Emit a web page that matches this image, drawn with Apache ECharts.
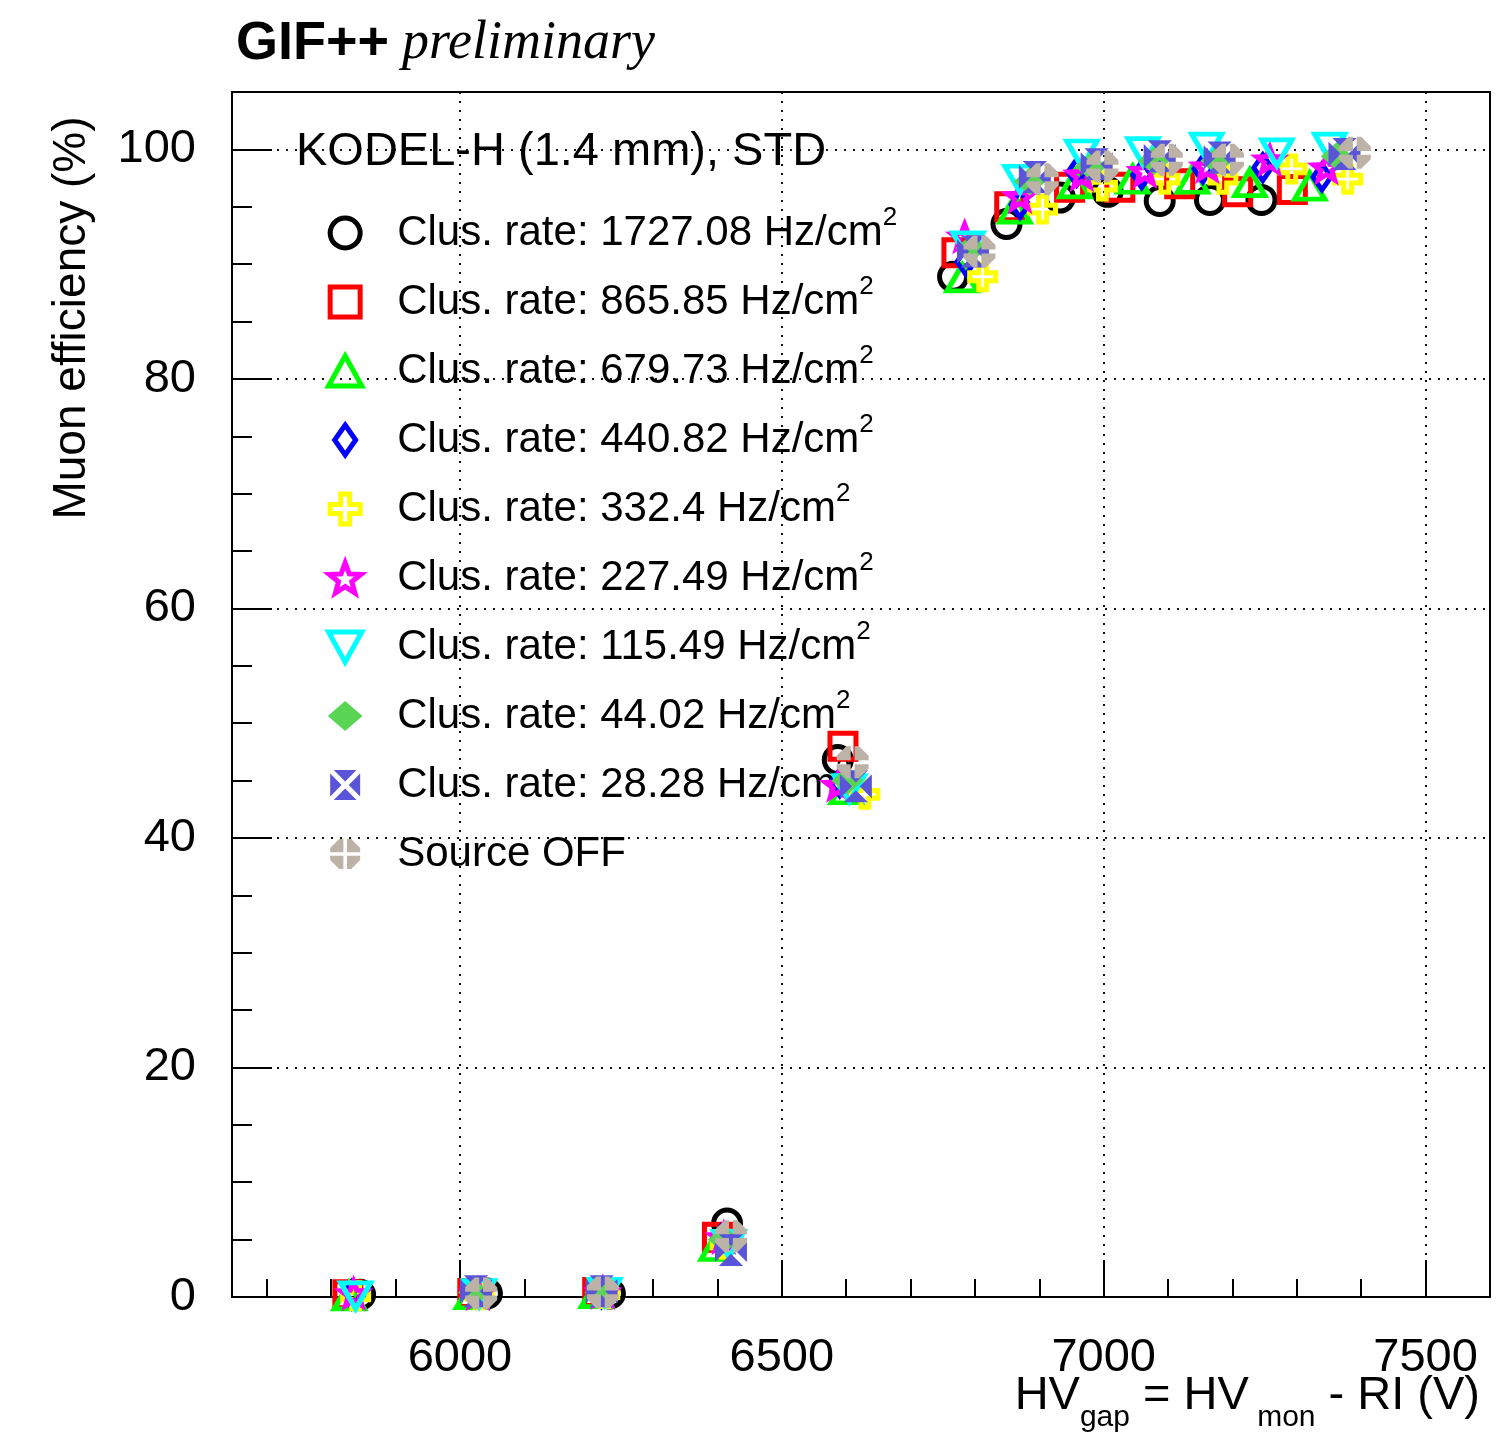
<!DOCTYPE html>
<html><head><meta charset="utf-8">
<script src="https://cdn.jsdelivr.net/npm/echarts@6/dist/echarts.min.js"></script>
<style>html,body{margin:0;padding:0;background:#fff}#c{width:1496px;height:1434px}</style>
</head><body><div id="c"></div>
<script>
// ---- tick values ----
const xMajorTicks = [6000, 6500, 7000, 7500];
const xMinorTicks = [5700, 5800, 5900, 6000, 6100, 6200, 6300, 6400, 6500, 6600, 6700, 6800, 6900, 7000, 7100, 7200, 7300, 7400, 7500, 7600];
const yMajorTicks = [0, 20, 40, 60, 80, 100];
const yMinorTicks = [0, 5, 10, 15, 20, 25, 30, 35, 40, 45, 50, 55, 60, 65, 70, 75, 80, 85, 90, 95, 100, 105];

// ---- legend labels ----
const legendLabels = [
  'Clus. rate: 1727.08 Hz/cm^2',
  'Clus. rate: 865.85 Hz/cm^2',
  'Clus. rate: 679.73 Hz/cm^2',
  'Clus. rate: 440.82 Hz/cm^2',
  'Clus. rate: 332.4 Hz/cm^2',
  'Clus. rate: 227.49 Hz/cm^2',
  'Clus. rate: 115.49 Hz/cm^2',
  'Clus. rate: 44.02 Hz/cm^2',
  'Clus. rate: 28.28 Hz/cm^2',
  'Source OFF'
];

// ---- data: HV_gap (V) and muon efficiency (%) ----
const hv_1727  = [5845, 6042, 6233, 6415, 6587, 6766, 6849, 6932, 7006, 7087, 7165, 7245];
const eff_1727 = [0.2, 0.3, 0.3, 6.4, 46.8, 88.9, 93.5, 95.8, 96.3, 95.5, 95.6, 95.6];
const hv_865   = [5826, 6020, 6214, 6400, 6595, 6772, 6854, 6947, 7025, 7118, 7208, 7293];
const eff_865  = [0.2, 0.3, 0.4, 5.2, 48.0, 91.0, 95.0, 96.7, 96.7, 97.0, 96.3, 96.5];
const hv_679   = [5828, 6018, 6212, 6398, 6600, 6780, 6862, 6955, 7045, 7138, 7227, 7320];
const eff_679  = [0.1, 0.2, 0.3, 4.4, 44.2, 88.8, 94.8, 97.0, 97.4, 97.4, 97.1, 96.8];
const hv_440   = [5832, 6025, 6220, 6405, 6590, 6786, 6870, 6958, 7059, 7154, 7247, 7339];
const eff_440  = [0.2, 0.3, 0.3, 5.0, 44.8, 90.2, 95.2, 98.0, 97.8, 98.3, 98.4, 97.6];
const hv_332   = [5838, 6030, 6225, 6412, 6629, 6812, 6905, 6998, 7095, 7185, 7292, 7379];
const eff_332  = [0.1, 0.2, 0.3, 4.6, 43.8, 88.9, 94.8, 96.8, 97.4, 97.4, 98.3, 97.4];
const hv_227   = [5835, 6028, 6222, 6410, 6588, 6784, 6870, 6966, 7064, 7161, 7258, 7346];
const eff_227  = [0.3, 0.3, 0.4, 5.2, 44.6, 92.4, 95.9, 97.8, 98.1, 98.5, 99.1, 98.4];
const hv_115   = [5838, 6030, 6225, 6418, 6605, 6789, 6870, 6966, 7061, 7160, 7269, 7351];
const eff_115  = [0.1, 0.3, 0.4, 4.6, 44.3, 91.6, 97.4, 99.6, 99.8, 100.2, 99.7, 100.2];
const hv_44    = [6022, 6218, 6410, 6602, 6795, 6885, 6980, 7078, 7175, 7362];
const eff_44   = [0.4, 0.4, 5.0, 45.0, 91.4, 97.2, 98.5, 99.0, 99.0, 99.4];
const hv_28    = [6025, 6220, 6421, 6615, 6797, 6893, 6989, 7087, 7180, 7374];
const eff_28   = [0.5, 0.5, 4.1, 44.5, 91.1, 97.6, 98.7, 99.4, 99.3, 99.6];
const hv_off   = [6033, 6222, 6421, 6610, 6807, 6905, 6998, 7098, 7193, 7390];
const eff_off  = [0.3, 0.4, 5.3, 46.6, 91.1, 97.4, 98.5, 99.1, 99.1, 99.7];

// ---- marker shapes ----
const P_SQ = 'path://M0,0 L10,0 L10,10 L0,10 Z';
const P_TRI_UP = 'path://M5,0 L10,9 L0,9 Z';
const P_TRI_DN = 'path://M0,0 L10,0 L5,9 Z';
const P_DIAM = 'path://M7,0 L14,10 L7,20 L0,10 Z';
const P_CROSS = 'path://M3.5,0 L6.5,0 L6.5,3.5 L10,3.5 L10,6.5 L6.5,6.5 L6.5,10 L3.5,10 L3.5,6.5 L0,6.5 L0,3.5 L3.5,3.5 Z';
const P_STAR = 'path://M10,0 L12.47,6.6 L19.51,6.91 L13.99,11.3 L15.88,18.09 L10,14.2 L4.12,18.09 L6.01,11.3 L0.49,6.91 L7.53,6.6 Z';
const P_FDIAM = 'path://M15,0 L30,13 L15,26 L0,13 Z';
const P_SQX = 'path://M1.2,0 L8.8,0 L5,3.8 Z M10,1.2 L10,8.8 L6.2,5 Z M8.8,10 L1.2,10 L5,6.2 Z M0,8.8 L0,1.2 L3.8,5 Z';
const P_OCT = 'path://M3,0 L4.4,0 L4.4,4.4 L0,4.4 L0,3 Z M5.6,0 L7,0 L10,3 L10,4.4 L5.6,4.4 Z M10,5.6 L10,7 L7,10 L5.6,10 L5.6,5.6 Z M4.4,10 L3,10 L0,7 L0,5.6 L4.4,5.6 Z';

function pts(xs, ys) { return xs.map((x, i) => [x, ys[i]]); }

const seriesDefs = [
  { hv: hv_1727, eff: eff_1727, symbol: 'circle', size: 27, fill: 'rgba(0,0,0,0)', stroke: '#000000', bw: 5 },
  { hv: hv_865,  eff: eff_865,  symbol: P_SQ, size: 26, fill: 'rgba(0,0,0,0)', stroke: '#ff0000', bw: 5 },
  { hv: hv_679,  eff: eff_679,  symbol: P_TRI_UP, size: [30, 26], fill: 'rgba(0,0,0,0)', stroke: '#00ff00', bw: 5 },
  { hv: hv_440,  eff: eff_440,  symbol: P_DIAM, size: [18, 26], fill: 'rgba(0,0,0,0)', stroke: '#0000ff', bw: 5 },
  { hv: hv_332,  eff: eff_332,  symbol: P_CROSS, size: 26, fill: 'rgba(0,0,0,0)', stroke: '#ffff00', bw: 5 },
  { hv: hv_227,  eff: eff_227,  symbol: P_STAR, size: [26, 24], fill: 'rgba(0,0,0,0)', stroke: '#ff00ff', bw: 5 },
  { hv: hv_115,  eff: eff_115,  symbol: P_TRI_DN, size: [30, 26], fill: 'rgba(0,0,0,0)', stroke: '#00ffff', bw: 5 },
  { hv: hv_44,   eff: eff_44,   symbol: P_FDIAM, size: [32, 28], fill: '#59d454', stroke: '#59d454', bw: 0 },
  { hv: hv_28,   eff: eff_28,   symbol: P_SQX, size: 32, fill: '#5954d8', stroke: '#5954d8', bw: 0 },
  { hv: hv_off,  eff: eff_off,  symbol: P_OCT, size: 32, fill: '#bdb2a6', stroke: '#bdb2a6', bw: 0 }
];

const FONT = 'Liberation Sans, Arial, Helvetica, sans-serif';

const series = seriesDefs.map((d, i) => ({
  name: legendLabels[i],
  type: 'scatter',
  xAxisIndex: 0, yAxisIndex: 0,
  data: pts(d.hv, d.eff),
  symbol: d.symbol,
  symbolSize: d.size,
  itemStyle: { color: d.fill, borderColor: d.stroke, borderWidth: d.bw, opacity: 1 },
  emphasis: { disabled: true },
  z: 10 + i
}));

const chart = echarts.init(document.getElementById('c'), null, { renderer: 'canvas' });
chart.setOption({
  animation: false,
  backgroundColor: '#ffffff',
  title: {
    text: '{a|GIF++}{sp| }{b|preliminary}',
    left: 231, top: 12,
    textStyle: {
      rich: {
        a: { fontFamily: FONT, fontWeight: 'bold', fontSize: 54, color: '#000' },
        sp: { fontFamily: FONT, fontWeight: 'normal', fontSize: 54, width: 13, color: '#000' },
        b: { fontFamily: 'Liberation Serif, Times New Roman, serif', fontWeight: 'normal', fontStyle: 'italic', fontSize: 54, color: '#000' }
      }
    }
  },
  grid: { left: 232, right: 6, top: 92, bottom: 137, show: true, borderColor: '#000', borderWidth: 2, backgroundColor: 'transparent' },
  legend: {
    orient: 'vertical', left: 326, top: 205, padding: 0,
    itemWidth: 94, itemHeight: 30, itemGap: 13,
    selectedMode: false,
    data: legendLabels,
    itemStyle: { borderWidth: 'inherit' },
    formatter: n => n.replace('^2', '{sup|2}'),
    textStyle: {
      fontFamily: FONT, fontSize: 42, color: '#000', lineHeight: 56,
      rich: { sup: { fontFamily: FONT, fontSize: 26, lineHeight: 26, verticalAlign: 'top', color: '#000' } }
    }
  },
  xAxis: [
    {
      type: 'value', min: 5646, max: 7600, position: 'bottom',
      axisLine: { show: true, onZero: false, lineStyle: { color: '#000', width: 2 } },
      axisTick: { show: true, inside: true, length: 37, customValues: xMajorTicks, lineStyle: { color: '#000', width: 2 } },
      axisLabel: { show: true, customValues: xMajorTicks, formatter: v => String(v), fontFamily: FONT, fontSize: 47, color: '#000', margin: 38 },
      splitLine: { show: true, lineStyle: { color: '#111', width: 2, type: [2, 7] } }
    },
    {
      type: 'value', min: 5646, max: 7600, position: 'bottom', offset: 0,
      axisLine: { show: false },
      axisTick: { show: true, inside: true, length: 18, customValues: xMinorTicks, lineStyle: { color: '#000', width: 2 } },
      axisLabel: { show: false },
      splitLine: { show: false }
    }
  ],
  yAxis: [
    {
      type: 'value', min: 0, max: 105, position: 'left',
      axisLine: { show: true, onZero: false, lineStyle: { color: '#000', width: 2 } },
      axisTick: { show: true, inside: true, length: 40, customValues: yMajorTicks, lineStyle: { color: '#000', width: 2 } },
      axisLabel: { show: true, customValues: yMajorTicks, formatter: v => String(v), fontFamily: FONT, fontSize: 47, color: '#000', margin: 36 },
      splitLine: { show: true, lineStyle: { color: '#111', width: 2, type: [2, 7] } }
    },
    {
      type: 'value', min: 0, max: 105, position: 'left', offset: 0,
      axisLine: { show: false },
      axisTick: { show: true, inside: true, length: 20, customValues: yMinorTicks, lineStyle: { color: '#000', width: 2 } },
      axisLabel: { show: false },
      splitLine: { show: false }
    }
  ],
  graphic: [
    {
      type: 'text', x: 296, y: 152, z: 100,
      style: { text: 'KODEL-H (1.4 mm), STD', fontFamily: FONT, fontSize: 47, fill: '#000', align: 'left', verticalAlign: 'middle', textAlign: 'left', textVerticalAlign: 'middle' }
    },
    {
      type: 'text', x: 72, y: 318, rotation: Math.PI / 2, z: 100,
      style: { text: 'Muon efficiency (%)', fontFamily: FONT, fontSize: 46, fill: '#000', align: 'center', verticalAlign: 'middle', textAlign: 'center', textVerticalAlign: 'middle' }
    },
    {
      type: 'text', x: 1480, y: 1405, z: 100,
      style: {
        text: '{m|HV}{s|gap}{m| = HV}{s| mon}{m| - RI (V)}',
        align: 'right', verticalAlign: 'middle', textAlign: 'right', textVerticalAlign: 'middle',
        rich: {
          m: { fontFamily: FONT, fontSize: 47, lineHeight: 64, verticalAlign: 'top', color: '#000' },
          s: { fontFamily: FONT, fontSize: 30, lineHeight: 30, padding: [30, 0, 0, 0], verticalAlign: 'top', color: '#000' }
        }
      }
    }
  ],
  series: series
});
</script>
</body></html>
